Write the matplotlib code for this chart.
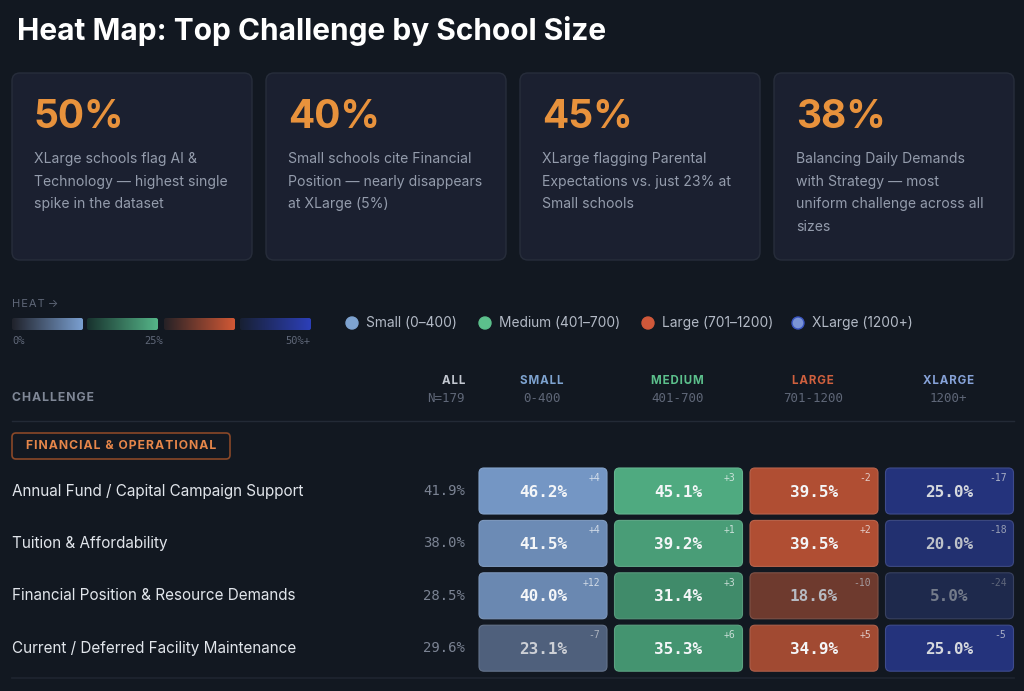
import numpy as np
import matplotlib.pyplot as plt
from matplotlib.patches import FancyBboxPatch, Circle
from matplotlib.colors import LinearSegmentedColormap, to_rgb

# --- data ---
title = "Heat Map: Top Challenge by School Size"
stat_values = ["50%", "40%", "45%", "38%"]
stat_lines = [
    ["XLarge schools flag AI &", "Technology — highest single", "spike in the dataset"],
    ["Small schools cite Financial", "Position — nearly disappears", "at XLarge (5%)"],
    ["XLarge flagging Parental", "Expectations vs. just 23% at", "Small schools"],
    ["Balancing Daily Demands", "with Strategy — most", "uniform challenge across all", "sizes"],
]
sizes = ["SMALL", "MEDIUM", "LARGE", "XLARGE"]
size_ranges = ["0-400", "401-700", "701-1200", "1200+"]
legend_labels = ["Small (0–400)", "Medium (401–700)", "Large (701–1200)", "XLarge (1200+)"]
heat_ticks = ["0%", "25%", "50%+"]
group_name = "FINANCIAL & OPERATIONAL"
n_all = "N=179"

challenges = [
    "Annual Fund / Capital Campaign Support",
    "Tuition & Affordability",
    "Financial Position & Resource Demands",
    "Current / Deferred Facility Maintenance",
]
all_pct = [41.9, 38.0, 28.5, 29.6]
small_pct = [46.2, 41.5, 40.0, 23.1]
medium_pct = [45.1, 39.2, 31.4, 35.3]
large_pct = [39.5, 39.5, 18.6, 34.9]
xlarge_pct = [25.0, 20.0, 5.0, 25.0]
small_diff = ["+4", "+4", "+12", "-7"]
medium_diff = ["+3", "+1", "+3", "+6"]
large_diff = ["-2", "+2", "-10", "+5"]
xlarge_diff = ["-17", "-18", "-24", "-5"]

# --- styling ---
BG = "#121821"
CARD = "#1b2030"
CARD_EDGE = "#272d3b"
ORANGE = "#e8923c"
GRAY = "#949cac"
DIM = "#5f6778"
SANS = ["Inter", "DejaVu Sans"]
MONO = ["DejaVu Sans Mono"]

# dark -> full colour for each size group
ramps = {
    "SMALL": ("#2a2a33", "#7a9fd0"),
    "MEDIUM": ("#1c4437", "#55b588"),
    "LARGE": ("#33282a", "#d15835"),
    "XLARGE": ("#1c2640", "#2c3fb8"),
}
head_colors = ["#7ea3d0", "#5cc08c", "#d0603e", "#86a2d8"]
dot_colors = ["#7ea3d0", "#5cc08c", "#d0583a", "#7a94d6"]
dot_edges = ["#7ea3d0", "#5cc08c", "#d0583a", "#3a55c0"]


def mix(c0, c1, t):
    a = np.array(to_rgb(c0))
    b = np.array(to_rgb(c1))
    return tuple(a + (b - a) * t)


def spaced(s):
    return "\u200a".join(s)


W, H = 1024, 691
fig = plt.figure(figsize=(W / 100, H / 100), dpi=100)
fig.patch.set_facecolor(BG)
ax = fig.add_axes([0, 0, 1, 1])
ax.set_facecolor(BG)

# title
ax.text(17, 31, title, color="white", fontsize=21.5, fontweight="bold",
        family=SANS, va="center", ha="left")

# stat cards
card_w = 240
for i, (val, lines) in enumerate(zip(stat_values, stat_lines)):
    x0 = 12 + i * 254
    ax.add_patch(FancyBboxPatch((x0, 73), card_w, 187,
                                boxstyle="round,pad=0,rounding_size=8",
                                fc=CARD, ec=CARD_EDGE, lw=1))
    ax.text(x0 + 22, 117, val, color=ORANGE, fontsize=28, fontweight="bold",
            family=SANS, va="center", ha="left")
    for k, line in enumerate(lines):
        ax.text(x0 + 22, 159 + k * 22.5, line, color=GRAY, fontsize=10.1,
                family=SANS, va="center", ha="left")

# heat scale
ax.text(12, 304, spaced("HEAT") + " →", color=DIM, fontsize=8, family=SANS,
        va="center", ha="left")
grad = np.linspace(0, 1, 100).reshape(1, -1)
seg_x = [12, 87, 164, 240]
for i, key in enumerate(sizes):
    c0, c1 = ramps[key]
    cmap = LinearSegmentedColormap.from_list(key, [mix(BG, c0, 0.6), c1])
    im = ax.imshow(grad, cmap=cmap, aspect="auto",
                   extent=(seg_x[i], seg_x[i] + 71, 330, 318))
    clip = FancyBboxPatch((seg_x[i], 318), 71, 12,
                          boxstyle="round,pad=0,rounding_size=2",
                          fc="none", ec="none", transform=ax.transData)
    ax.add_patch(clip)
    im.set_clip_path(clip)
ax.text(12, 341, heat_ticks[0], color=DIM, fontsize=7.5, family=MONO, va="center", ha="left")
ax.text(154, 341, heat_ticks[1], color=DIM, fontsize=7.5, family=MONO, va="center", ha="center")
ax.text(310, 341, heat_ticks[2], color=DIM, fontsize=7.5, family=MONO, va="center", ha="right")

# size legend
leg_x = [352, 485, 648, 798]
for i, lab in enumerate(legend_labels):
    ax.add_patch(Circle((leg_x[i], 323), 6, fc=dot_colors[i], ec=dot_edges[i], lw=1))
    ax.text(leg_x[i] + 14, 323, lab, color="#b3bac6", fontsize=9.9, family=SANS,
            va="center", ha="left")

# column headers
col_x = [479 + i * 135.5 for i in range(4)]
cell_w, cell_h = 128, 46
ax.text(12, 398, spaced("CHALLENGE"), color="#7f8796", fontsize=8.8,
        fontweight="bold", family=SANS, va="center", ha="left")
ax.text(465, 381, spaced("ALL"), color="#c3c8d1", fontsize=8.3, fontweight="bold",
        family=SANS, va="center", ha="right")
ax.text(465, 398, n_all, color=DIM, fontsize=9, family=MONO, va="center", ha="right")
for i, s in enumerate(sizes):
    cx = col_x[i] + cell_w / 2
    ax.text(cx - 1, 381, spaced(s), color=head_colors[i], fontsize=8.3,
            fontweight="bold", family=SANS, va="center", ha="center")
    ax.text(cx - 1, 398, size_ranges[i], color=DIM, fontsize=9, family=MONO,
            va="center", ha="center")
ax.plot([12, 1014], [421, 421], color="#232a36", lw=1)

# group pill
ax.add_patch(FancyBboxPatch((12, 433), 218, 26, boxstyle="round,pad=0,rounding_size=4",
                            fc=BG, ec="#8a4828", lw=1.2))
ax.text(121, 446, spaced(group_name), color="#e6864a", fontsize=8.8,
        fontweight="bold", family=SANS, va="center", ha="center")

# heat map rows
cols = [small_pct, medium_pct, large_pct, xlarge_pct]
diffs = [small_diff, medium_diff, large_diff, xlarge_diff]
for r, name in enumerate(challenges):
    cy = 491 + r * 52.4
    ax.text(12, cy, name, color="#e1e5eb", fontsize=11, family=SANS,
            va="center", ha="left")
    ax.text(465, cy, f"{all_pct[r]:.1f}%", color="#7b8393", fontsize=10,
            family=MONO, va="center", ha="right")
    for c, key in enumerate(sizes):
        v = cols[c][r]
        t = min(v / 50.0, 1.0)
        c0, c1 = ramps[key]
        fc = mix(c0, c1, t)
        ec = mix(fc, (1, 1, 1), 0.12)
        x0 = col_x[c]
        ax.add_patch(FancyBboxPatch((x0, cy - cell_h / 2), cell_w, cell_h,
                                    boxstyle="round,pad=0,rounding_size=5",
                                    fc=fc, ec=ec, lw=0.8))
        tc = mix("#5d6576", "#f4f6f8", min(t * 1.6, 1.0))
        ax.text(x0 + cell_w / 2, cy + 1, f"{v:.1f}%", color=tc, fontsize=11.5,
                fontweight="bold", family=MONO, va="center", ha="center")
        ax.text(x0 + cell_w - 7, cy - cell_h / 2 + 10, diffs[c][r], color=tc,
                alpha=0.75, fontsize=7, family=MONO, va="center", ha="right")

ax.plot([12, 1014], [678, 678], color="#1f2530", lw=1.2)

ax.set_xlim(0, W)
ax.set_ylim(H, 0)
ax.axis("off")
fig.savefig("out.png", dpi=100, facecolor=BG)
